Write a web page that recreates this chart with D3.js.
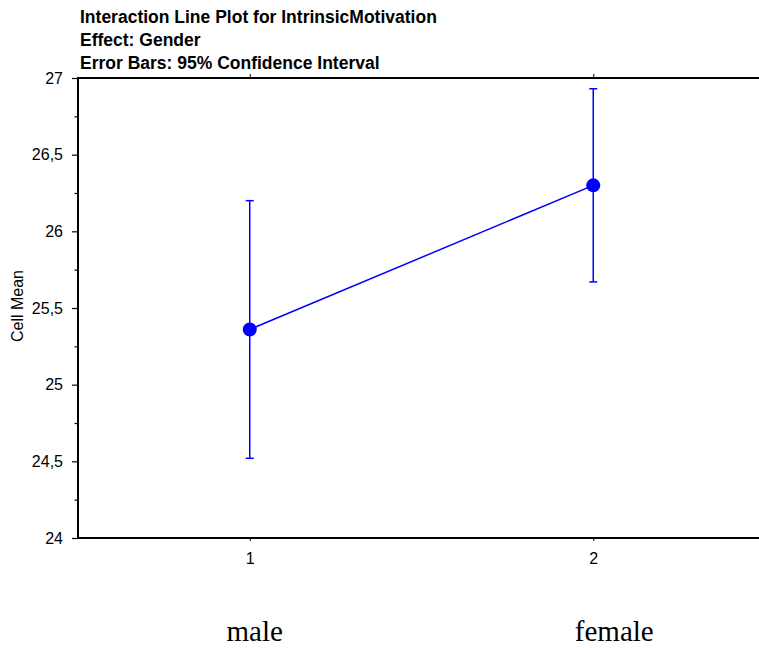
<!DOCTYPE html>
<html>
<head>
<meta charset="utf-8">
<script src="https://cdn.jsdelivr.net/npm/d3@7/dist/d3.min.js"></script>
<style>
  html, body { margin: 0; padding: 0; background: #fff; }
  svg { display: block; }
</style>
</head>
<body>
<svg id="chart" width="759" height="648"></svg>
<script>
// Cell means of IntrinsicMotivation by Gender with 95% confidence limits
const groups = [1, 2];
const groupNames = ["male", "female"];
const cellMeans = [25.36, 26.30];
const ciLower = [24.52, 25.67];
const ciUpper = [26.20, 26.93];
const yMajorTicks = [24, 24.5, 25, 25.5, 26, 26.5, 27];
const yMinorTicks = [24.25, 24.75, 25.25, 25.75, 26.25, 26.75];
const titleLines = [
  "Interaction Line Plot for IntrinsicMotivation",
  "Effect: Gender",
  "Error Bars: 95% Confidence Interval"
];

const svg = d3.select("#chart");
const W = 759, H = 648;
const plotLeft = 78, plotTop = 78, plotBottom = 538;

const x = d3.scaleLinear().domain([0.5, 2.5]).range([plotLeft, 765]);
const y = d3.scaleLinear().domain([24, 27]).range([plotBottom, plotTop]);

const sans = "Arial, 'Liberation Sans', Helvetica, sans-serif";
const blue = "#0000ff";

// Title block
svg.append("g")
  .selectAll("text")
  .data(titleLines)
  .join("text")
  .attr("x", 80)
  .attr("y", (d, i) => 22.5 + i * 23)
  .attr("font-family", sans)
  .attr("font-weight", "bold")
  .attr("font-size", 17.5)
  .attr("fill", "#000")
  .text(d => d);

// Y axis: major ticks with labels, minor ticks between
const yAxis = d3.axisLeft(y)
  .tickValues(yMajorTicks)
  .tickSize(6)
  .tickPadding(9)
  .tickFormat(d => String(d).replace(".", ","));
const gy = svg.append("g").attr("transform", `translate(${plotLeft},0)`).call(yAxis);
gy.select(".domain").remove();
gy.selectAll(".tick line").attr("stroke", "#000").attr("stroke-width", 1.2);
gy.selectAll(".tick text")
  .attr("font-family", sans).attr("font-size", 16).attr("fill", "#000");

svg.append("g").attr("transform", `translate(${plotLeft},0)`)
  .call(d3.axisLeft(y).tickValues(yMinorTicks).tickSize(3.5).tickFormat(""))
  .call(g => g.select(".domain").remove())
  .selectAll(".tick line").attr("stroke", "#000").attr("stroke-width", 1.2);

// X axis: group ticks below the bottom line and above the top line
const xAxis = d3.axisBottom(x).tickValues(groups).tickSize(3).tickPadding(11.5)
  .tickFormat(d3.format("d"));
const gx = svg.append("g").attr("transform", `translate(0,${plotBottom})`).call(xAxis);
gx.select(".domain").remove();
gx.selectAll(".tick line").attr("stroke", "#000");
gx.selectAll(".tick text")
  .attr("font-family", sans).attr("font-size", 16).attr("fill", "#000");

svg.append("g").attr("transform", `translate(0,${plotTop})`)
  .call(d3.axisTop(x).tickValues(groups).tickSize(4).tickFormat(""))
  .call(g => g.select(".domain").remove())
  .selectAll(".tick line").attr("stroke", "#000");

// Frame lines
svg.append("line").attr("x1", plotLeft).attr("x2", W).attr("y1", plotTop).attr("y2", plotTop)
  .attr("stroke", "#000").attr("stroke-width", 2);
svg.append("line").attr("x1", plotLeft).attr("x2", W).attr("y1", plotBottom).attr("y2", plotBottom)
  .attr("stroke", "#000").attr("stroke-width", 2);
svg.append("line").attr("x1", plotLeft).attr("x2", plotLeft).attr("y1", plotTop - 1).attr("y2", plotBottom + 1)
  .attr("stroke", "#000").attr("stroke-width", 2);

// Y axis title
svg.append("text")
  .attr("transform", `translate(23,306) rotate(-90)`)
  .attr("text-anchor", "middle")
  .attr("font-family", sans)
  .attr("font-size", 16)
  .attr("fill", "#000")
  .text("Cell Mean");

// Data
const data = groups.map((g, i) => ({ g, mean: cellMeans[i], lo: ciLower[i], hi: ciUpper[i] }));

// Error bars
const eb = svg.append("g").attr("stroke", blue).attr("stroke-width", 1.5);
eb.selectAll("line.v").data(data).join("line").attr("class", "v")
  .attr("x1", d => x(d.g)).attr("x2", d => x(d.g))
  .attr("y1", d => y(d.lo)).attr("y2", d => y(d.hi));
eb.selectAll("line.cap-hi").data(data).join("line").attr("class", "cap-hi")
  .attr("x1", d => x(d.g) - 4).attr("x2", d => x(d.g) + 4)
  .attr("y1", d => y(d.hi)).attr("y2", d => y(d.hi));
eb.selectAll("line.cap-lo").data(data).join("line").attr("class", "cap-lo")
  .attr("x1", d => x(d.g) - 4).attr("x2", d => x(d.g) + 4)
  .attr("y1", d => y(d.lo)).attr("y2", d => y(d.lo));

// Connecting line
svg.append("path").datum(data)
  .attr("fill", "none").attr("stroke", blue).attr("stroke-width", 1.5)
  .attr("d", d3.line().x(d => x(d.g)).y(d => y(d.mean)));

// Mean markers
svg.append("g").selectAll("circle").data(data).join("circle")
  .attr("cx", d => x(d.g)).attr("cy", d => y(d.mean)).attr("r", 7)
  .attr("fill", blue);

// Group names under the axis
svg.append("g").selectAll("text").data(groups).join("text")
  .attr("x", (d, i) => x(d) + [5, 21][i])
  .attr("y", 641)
  .attr("text-anchor", "middle")
  .attr("font-family", "'Liberation Serif', 'Times New Roman', serif")
  .attr("font-size", 29)
  .attr("fill", "#000")
  .text((d, i) => groupNames[i]);
</script>
</body>
</html>
